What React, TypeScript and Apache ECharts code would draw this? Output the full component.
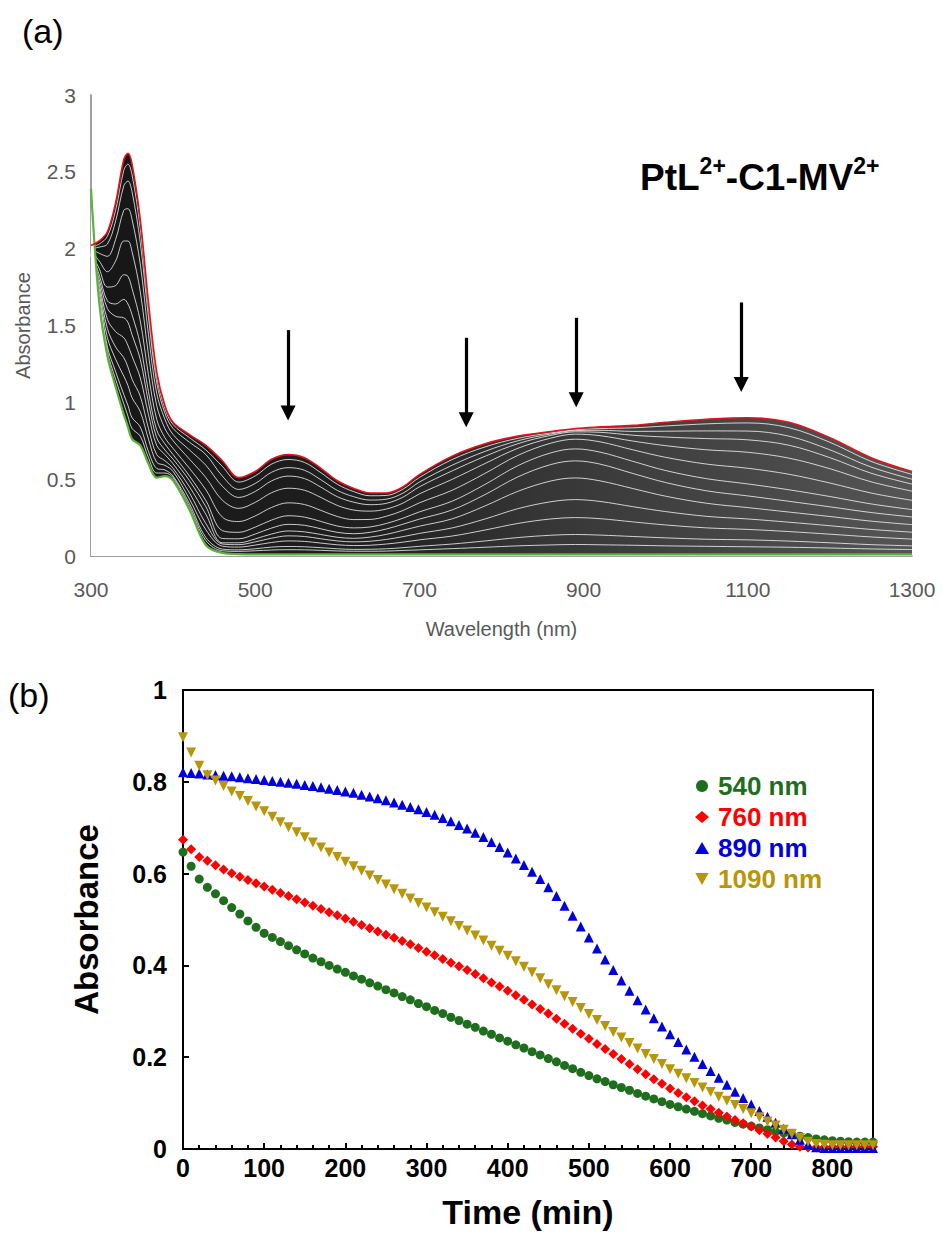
import React, { useEffect, useRef } from "react";
import * as echarts from "echarts";

const FONT = "Arial, 'Liberation Sans', Helvetica, sans-serif";

// ---------- Panel (a): spectra ----------
const WL = [300, 310, 320, 330, 340, 345, 350, 360, 370, 380, 390, 400, 420, 440, 460, 480, 500, 520, 540, 560, 580, 600, 620, 640, 660, 680, 700, 740, 780, 820, 860, 890, 920, 960, 1000, 1050, 1100, 1150, 1200, 1250, 1300];

const SPEC_START = [2.02, 2.05, 2.11, 2.30, 2.58, 2.62, 2.55, 2.19, 1.65, 1.20, 0.98, 0.87, 0.79, 0.72, 0.62, 0.51, 0.55, 0.63, 0.66, 0.64, 0.57, 0.49, 0.44, 0.41, 0.41, 0.45, 0.53, 0.65, 0.73, 0.78, 0.81, 0.83, 0.84, 0.85, 0.87, 0.89, 0.90, 0.87, 0.77, 0.64, 0.55];
const SPEC_END = [2.39, 1.65, 1.30, 1.10, 0.92, 0.84, 0.76, 0.72, 0.60, 0.51, 0.52, 0.49, 0.30, 0.07, 0.02, 0.012, 0.01, 0.01, 0.01, 0.01, 0.01, 0.01, 0.01, 0.01, 0.01, 0.01, 0.01, 0.01, 0.01, 0.01, 0.01, 0.01, 0.01, 0.01, 0.01, 0.01, 0.01, 0.01, 0.01, 0.01, 0.01];

const SPEC_T10 = [2.01, 2.03, 2.08, 2.25, 2.51, 2.55, 2.48, 2.13, 1.61, 1.17, 0.96, 0.855, 0.77, 0.69, 0.583, 0.481, 0.521, 0.598, 0.628, 0.609, 0.542, 0.467, 0.419, 0.392, 0.394, 0.435, 0.511, 0.628, 0.710, 0.766, 0.801, 0.822, 0.829, 0.834, 0.846, 0.860, 0.866, 0.835, 0.740, 0.616, 0.531];
const SPEC_T30 = [2.00, 2.01, 2.03, 2.18, 2.41, 2.44, 2.37, 2.04, 1.55, 1.13, 0.93, 0.83, 0.74, 0.66, 0.520, 0.433, 0.472, 0.545, 0.575, 0.558, 0.496, 0.427, 0.386, 0.364, 0.370, 0.409, 0.481, 0.591, 0.681, 0.750, 0.794, 0.816, 0.818, 0.811, 0.812, 0.814, 0.813, 0.780, 0.691, 0.579, 0.500];
const SPEC_T80 = [2.00, 1.97, 1.95, 2.06, 2.25, 2.26, 2.19, 1.90, 1.44, 1.06, 0.89, 0.79, 0.69, 0.59, 0.454, 0.381, 0.420, 0.489, 0.520, 0.504, 0.448, 0.386, 0.350, 0.334, 0.343, 0.383, 0.450, 0.554, 0.649, 0.731, 0.785, 0.808, 0.805, 0.786, 0.774, 0.764, 0.756, 0.721, 0.640, 0.539, 0.468];
const SPEC_T150 = [1.99, 1.92, 1.85, 1.92, 2.05, 2.05, 1.98, 1.72, 1.31, 0.98, 0.83, 0.75, 0.63, 0.51, 0.363, 0.310, 0.349, 0.412, 0.441, 0.428, 0.381, 0.329, 0.299, 0.292, 0.306, 0.344, 0.404, 0.499, 0.602, 0.701, 0.767, 0.793, 0.783, 0.748, 0.718, 0.691, 0.675, 0.637, 0.568, 0.483, 0.422];
const SPEC_T250 = [1.98, 1.87, 1.75, 1.76, 1.83, 1.82, 1.74, 1.53, 1.18, 0.89, 0.77, 0.70, 0.57, 0.43, 0.253, 0.224, 0.261, 0.316, 0.346, 0.335, 0.297, 0.257, 0.237, 0.238, 0.259, 0.296, 0.346, 0.428, 0.538, 0.655, 0.734, 0.760, 0.743, 0.691, 0.642, 0.598, 0.571, 0.532, 0.475, 0.410, 0.362];
const SPEC_T350 = [1.98, 1.83, 1.66, 1.64, 1.67, 1.64, 1.57, 1.38, 1.07, 0.82, 0.73, 0.66, 0.52, 0.36, 0.165, 0.154, 0.188, 0.234, 0.262, 0.253, 0.225, 0.195, 0.183, 0.189, 0.212, 0.246, 0.287, 0.357, 0.466, 0.588, 0.671, 0.697, 0.676, 0.616, 0.556, 0.503, 0.469, 0.431, 0.387, 0.339, 0.302];
const SPEC_T420 = [1.97, 1.80, 1.61, 1.56, 1.55, 1.52, 1.44, 1.28, 1.00, 0.77, 0.69, 0.63, 0.49, 0.32, 0.114, 0.112, 0.143, 0.182, 0.206, 0.200, 0.177, 0.154, 0.145, 0.154, 0.176, 0.207, 0.240, 0.300, 0.400, 0.515, 0.595, 0.619, 0.598, 0.537, 0.478, 0.424, 0.391, 0.356, 0.320, 0.283, 0.254];
const SPEC_T480 = [1.97, 1.77, 1.54, 1.46, 1.42, 1.37, 1.30, 1.16, 0.92, 0.72, 0.66, 0.60, 0.45, 0.27, 0.086, 0.086, 0.111, 0.143, 0.163, 0.157, 0.140, 0.122, 0.115, 0.123, 0.141, 0.167, 0.194, 0.242, 0.326, 0.421, 0.488, 0.508, 0.489, 0.439, 0.389, 0.343, 0.315, 0.286, 0.257, 0.227, 0.204];
const SPEC_T540 = [1.96, 1.74, 1.48, 1.36, 1.29, 1.23, 1.15, 1.04, 0.83, 0.66, 0.62, 0.57, 0.41, 0.21, 0.078, 0.074, 0.092, 0.116, 0.131, 0.127, 0.112, 0.098, 0.092, 0.096, 0.108, 0.126, 0.147, 0.183, 0.241, 0.308, 0.353, 0.367, 0.355, 0.321, 0.289, 0.258, 0.241, 0.220, 0.197, 0.173, 0.155];
const SPEC_T600 = [1.96, 1.71, 1.42, 1.28, 1.17, 1.11, 1.03, 0.94, 0.76, 0.61, 0.59, 0.55, 0.37, 0.17, 0.064, 0.058, 0.071, 0.088, 0.098, 0.095, 0.084, 0.073, 0.068, 0.070, 0.078, 0.090, 0.105, 0.130, 0.169, 0.212, 0.241, 0.250, 0.243, 0.222, 0.202, 0.183, 0.173, 0.159, 0.142, 0.124, 0.110];
const SPEC_T670 = [1.96, 1.68, 1.36, 1.20, 1.05, 0.98, 0.90, 0.84, 0.68, 0.57, 0.56, 0.52, 0.34, 0.12, 0.045, 0.040, 0.047, 0.058, 0.062, 0.060, 0.054, 0.047, 0.043, 0.044, 0.047, 0.054, 0.063, 0.078, 0.098, 0.120, 0.135, 0.140, 0.136, 0.127, 0.118, 0.109, 0.105, 0.097, 0.086, 0.074, 0.066];
const SPEC_T720 = [1.96, 1.67, 1.33, 1.15, 0.99, 0.91, 0.83, 0.78, 0.64, 0.54, 0.54, 0.51, 0.32, 0.10, 0.034, 0.030, 0.034, 0.039, 0.041, 0.040, 0.037, 0.033, 0.031, 0.031, 0.032, 0.036, 0.040, 0.048, 0.057, 0.066, 0.072, 0.075, 0.073, 0.070, 0.066, 0.063, 0.060, 0.057, 0.052, 0.046, 0.042];
const MID_SPECTRA = [SPEC_T10, SPEC_T30, SPEC_T80, SPEC_T150, SPEC_T250, SPEC_T350, SPEC_T420, SPEC_T480, SPEC_T540, SPEC_T600, SPEC_T670, SPEC_T720];

// arrows: wavelength, start absorbance, end absorbance
const ARROW_WL = [540, 757, 891, 1092];
const ARROW_FROM = [1.47, 1.42, 1.55, 1.65];
const ARROW_TO = [0.93, 0.886, 1.016, 1.116];

const X_TICKS_A = [300, 500, 700, 900, 1100, 1300];
const Y_TICKS_A = [0, 0.5, 1, 1.5, 2, 2.5, 3];

// ---------- Panel (b): kinetics ----------
const TIME = [0, 10, 20, 30, 40, 50, 60, 70, 80, 90, 100, 110, 120, 130, 140, 150, 160, 170, 180, 190, 200, 210, 220, 230, 240, 250, 260, 270, 280, 290, 300, 310, 320, 330, 340, 350, 360, 370, 380, 390, 400, 410, 420, 430, 440, 450, 460, 470, 480, 490, 500, 510, 520, 530, 540, 550, 560, 570, 580, 590, 600, 610, 620, 630, 640, 650, 660, 670, 680, 690, 700, 710, 720, 730, 740, 750, 760, 770, 780, 790, 800, 810, 820, 830, 840, 850];

const A540 = [0.647, 0.616, 0.588, 0.570, 0.556, 0.541, 0.526, 0.512, 0.497, 0.483, 0.470, 0.461, 0.452, 0.443, 0.434, 0.425, 0.416, 0.408, 0.400, 0.392, 0.385, 0.377, 0.370, 0.362, 0.355, 0.347, 0.340, 0.332, 0.325, 0.317, 0.310, 0.302, 0.295, 0.287, 0.280, 0.272, 0.265, 0.257, 0.250, 0.242, 0.235, 0.227, 0.220, 0.212, 0.205, 0.197, 0.190, 0.182, 0.175, 0.167, 0.160, 0.153, 0.147, 0.140, 0.134, 0.128, 0.121, 0.115, 0.109, 0.103, 0.097, 0.092, 0.087, 0.082, 0.077, 0.072, 0.067, 0.063, 0.058, 0.054, 0.050, 0.046, 0.042, 0.038, 0.035, 0.031, 0.028, 0.025, 0.022, 0.020, 0.018, 0.017, 0.016, 0.015, 0.015, 0.015];
const A760 = [0.674, 0.653, 0.636, 0.628, 0.618, 0.609, 0.601, 0.593, 0.586, 0.579, 0.572, 0.565, 0.558, 0.551, 0.544, 0.537, 0.530, 0.523, 0.516, 0.509, 0.502, 0.495, 0.488, 0.481, 0.474, 0.467, 0.460, 0.453, 0.446, 0.438, 0.430, 0.422, 0.414, 0.406, 0.398, 0.390, 0.381, 0.372, 0.363, 0.354, 0.345, 0.335, 0.325, 0.315, 0.305, 0.295, 0.284, 0.273, 0.262, 0.251, 0.240, 0.229, 0.218, 0.207, 0.196, 0.185, 0.174, 0.163, 0.152, 0.142, 0.132, 0.122, 0.113, 0.104, 0.095, 0.087, 0.079, 0.071, 0.063, 0.056, 0.049, 0.041, 0.033, 0.025, 0.017, 0.010, 0.005, 0.003, 0.003, 0.004, 0.005, 0.005, 0.005, 0.005, 0.005, 0.005];
const A890 = [0.821, 0.819, 0.818, 0.816, 0.815, 0.813, 0.812, 0.810, 0.808, 0.806, 0.804, 0.802, 0.800, 0.798, 0.796, 0.793, 0.791, 0.788, 0.785, 0.782, 0.779, 0.776, 0.772, 0.768, 0.764, 0.760, 0.755, 0.750, 0.745, 0.740, 0.734, 0.728, 0.721, 0.714, 0.706, 0.698, 0.689, 0.680, 0.669, 0.658, 0.646, 0.633, 0.619, 0.604, 0.588, 0.570, 0.551, 0.530, 0.508, 0.485, 0.461, 0.437, 0.413, 0.390, 0.367, 0.345, 0.324, 0.304, 0.285, 0.267, 0.250, 0.233, 0.217, 0.201, 0.185, 0.170, 0.155, 0.140, 0.125, 0.111, 0.097, 0.083, 0.070, 0.057, 0.044, 0.032, 0.020, 0.010, 0.004, 0.002, 0.002, 0.002, 0.002, 0.002, 0.002, 0.002];
const A1090 = [0.897, 0.864, 0.835, 0.814, 0.803, 0.791, 0.779, 0.769, 0.758, 0.746, 0.736, 0.724, 0.712, 0.701, 0.690, 0.679, 0.668, 0.657, 0.646, 0.636, 0.626, 0.616, 0.606, 0.596, 0.586, 0.576, 0.566, 0.556, 0.546, 0.536, 0.526, 0.516, 0.506, 0.496, 0.486, 0.476, 0.465, 0.454, 0.443, 0.432, 0.421, 0.409, 0.397, 0.385, 0.372, 0.359, 0.346, 0.333, 0.320, 0.307, 0.294, 0.281, 0.268, 0.255, 0.243, 0.231, 0.219, 0.207, 0.196, 0.185, 0.174, 0.164, 0.154, 0.144, 0.134, 0.124, 0.114, 0.105, 0.096, 0.087, 0.078, 0.069, 0.060, 0.051, 0.042, 0.033, 0.024, 0.016, 0.011, 0.009, 0.008, 0.008, 0.008, 0.008, 0.008, 0.008];

const SERIES_B = [
  { name: "540 nm", values: A540, color: "#1e6e1e", symbol: "circle", size: 9 },
  { name: "760 nm", values: A760, color: "#ff0000", symbol: "diamond", size: 10 },
  { name: "890 nm", values: A890, color: "#0000dd", symbol: "triangle", size: 10 },
  { name: "1090 nm", values: A1090, color: "#b8960b", symbol: "path://M0,0L10,0L5,9Z", size: 10 },
];

const pair = (xs: number[], ys: number[]) => xs.map((x, i) => [x, ys[i]]);

export default function App() {
  const ref = useRef<HTMLDivElement>(null);
  useEffect(() => {
    const chart = echarts.init(ref.current!, null, { renderer: "svg" });
    const gray = "#595959";
    const series: any[] = [];
    series.push({
      type: "line", xAxisIndex: 0, yAxisIndex: 0, data: pair(WL, SPEC_START), smooth: 0.35,
      showSymbol: false, lineStyle: { width: 0 }, z: 1, silent: true,
      areaStyle: {
        opacity: 1,
        color: new echarts.graphic.LinearGradient(0, 0, 1, 0, [
          { offset: 0, color: "#161616" },
          { offset: 0.35, color: "#202020" },
          { offset: 0.55, color: "#363636" },
          { offset: 1, color: "#555555" },
        ]),
      },
      markLine: {
        silent: true, symbol: ["none", "triangle"], symbolSize: 15, animation: false,
        itemStyle: { color: "#000" },
        lineStyle: { color: "#000", width: 3.2, type: "solid" }, label: { show: false },
        data: ARROW_WL.map((w, i) => [{ coord: [w, ARROW_FROM[i]] }, { coord: [w, ARROW_TO[i]] }]),
      },
    });
    series.push({
      type: "line", xAxisIndex: 0, yAxisIndex: 0, data: pair(WL, SPEC_END), smooth: 0.35,
      showSymbol: false, lineStyle: { width: 0 }, z: 2, silent: true,
      areaStyle: { color: "#ffffff", opacity: 1 },
    });
    MID_SPECTRA.forEach((s) => {
      series.push({
        type: "line", xAxisIndex: 0, yAxisIndex: 0, data: pair(WL, s), smooth: 0.35,
        showSymbol: false, z: 3, silent: true,
        lineStyle: { color: "rgba(255,255,255,0.85)", width: 0.9 },
      });
    });
    series.push({
      type: "line", xAxisIndex: 0, yAxisIndex: 0, data: pair(WL, SPEC_END), smooth: 0.35,
      showSymbol: false, z: 4, silent: true, lineStyle: { color: "#5cb13c", width: 2.2 },
    });
    series.push({
      type: "line", xAxisIndex: 0, yAxisIndex: 0, data: pair(WL, SPEC_START), smooth: 0.35,
      showSymbol: false, z: 5, silent: true, lineStyle: { color: "#e8101a", width: 1.6 },
    });
    SERIES_B.forEach((s) => {
      series.push({
        name: s.name, type: "scatter", xAxisIndex: 1, yAxisIndex: 1,
        data: pair(TIME, s.values), symbol: s.symbol, symbolSize: s.size,
        itemStyle: { color: s.color, opacity: 1 }, z: 6,
      });
    });

    chart.setOption({
      animation: false,
      backgroundColor: "#ffffff",
      textStyle: { fontFamily: FONT },
      grid: [
        { left: 91, top: 95, width: 821, height: 461 },
        { left: 183, top: 690, width: 690, height: 459, show: true, borderColor: "#000", borderWidth: 2, backgroundColor: "transparent" },
      ],
      xAxis: [
        {
          type: "value", gridIndex: 0, min: X_TICKS_A[0], max: X_TICKS_A[X_TICKS_A.length - 1], interval: 200,
          axisLine: { show: true, lineStyle: { color: "#7f7f7f", width: 1.5 } },
          axisTick: { show: false }, splitLine: { show: false },
          axisLabel: { color: gray, fontSize: 21, fontFamily: FONT, margin: 23, formatter: (v: number) => String(v) },
          name: "Wavelength (nm)", nameLocation: "middle", nameGap: 63,
          nameTextStyle: { color: gray, fontSize: 20, fontFamily: FONT },
        },
        {
          type: "value", gridIndex: 1, min: 0, max: 850, interval: 100,
          axisLine: { show: true, onZero: false, lineStyle: { color: "#000", width: 2 } },
          axisTick: { show: true, inside: true, length: 6, lineStyle: { color: "#000", width: 2 } },
          minorTick: { show: true, splitNumber: 5, length: 4, lineStyle: { color: "#000", width: 2 } },
          splitLine: { show: false },
          axisLabel: { color: "#000", fontSize: 25, fontWeight: "bold", fontFamily: FONT, margin: 6, showMaxLabel: false },
          name: "Time (min)", nameLocation: "middle", nameGap: 46,
          nameTextStyle: { color: "#000", fontSize: 34, fontWeight: "bold", fontFamily: FONT },
        },
      ],
      yAxis: [
        {
          type: "value", gridIndex: 0, min: Y_TICKS_A[0], max: Y_TICKS_A[Y_TICKS_A.length - 1], interval: 0.5,
          axisLine: { show: true, lineStyle: { color: "#7f7f7f", width: 1.5 } },
          axisTick: { show: false }, splitLine: { show: false },
          axisLabel: { color: gray, fontSize: 21, fontFamily: FONT, margin: 15 },
          name: "Absorbance", nameLocation: "middle", nameGap: 58, nameRotate: 90,
          nameTextStyle: { color: gray, fontSize: 20, fontFamily: FONT },
        },
        {
          type: "value", gridIndex: 1, min: 0, max: 1, interval: 0.2,
          axisLine: { show: true, onZero: false, lineStyle: { color: "#000", width: 2 } },
          axisTick: { show: true, inside: true, length: 6, lineStyle: { color: "#000", width: 2 } },
          splitLine: { show: false },
          axisLabel: { color: "#000", fontSize: 25, fontWeight: "bold", fontFamily: FONT, margin: 16 },
          name: "Absorbance", nameLocation: "middle", nameGap: 80, nameRotate: 90,
          nameTextStyle: { color: "#000", fontSize: 33, fontWeight: "bold", fontFamily: FONT },
        },
      ],
      legend: {
        orient: "vertical", left: 690, top: 768, itemWidth: 14, itemHeight: 12, itemGap: 5,
        selectedMode: false,
        textStyle: { fontSize: 26, fontWeight: "bold", fontFamily: FONT, padding: [0, 0, 0, 4] },
        data: SERIES_B.map((s) => ({ name: s.name, textStyle: { color: s.color } })),
      },
      graphic: [
        { type: "text", left: 22, top: 14, style: { text: "(a)", fontSize: 34, fill: "#000", fontFamily: FONT } },
        { type: "text", left: 8, top: 678, style: { text: "(b)", fontSize: 34, fill: "#000", fontFamily: FONT } },
        {
          type: "text", x: 640, y: 154,
          style: {
            text: "{a|PtL}{s|2+}{a|-C1-MV}{s|2+}",
            verticalAlign: "top",
            rich: {
              a: { fontSize: 37, fontWeight: "bold", fontFamily: FONT, fill: "#000", lineHeight: 42, verticalAlign: "bottom" },
              s: { fontSize: 23, fontWeight: "bold", fontFamily: FONT, fill: "#000", lineHeight: 32, verticalAlign: "top" },
            },
          },
        },
      ],
      series,
    });
    return () => chart.dispose();
  }, []);
  return <div ref={ref} style={{ position: "absolute", left: 0, top: 0, width: 943, height: 1235 }} />;
}
